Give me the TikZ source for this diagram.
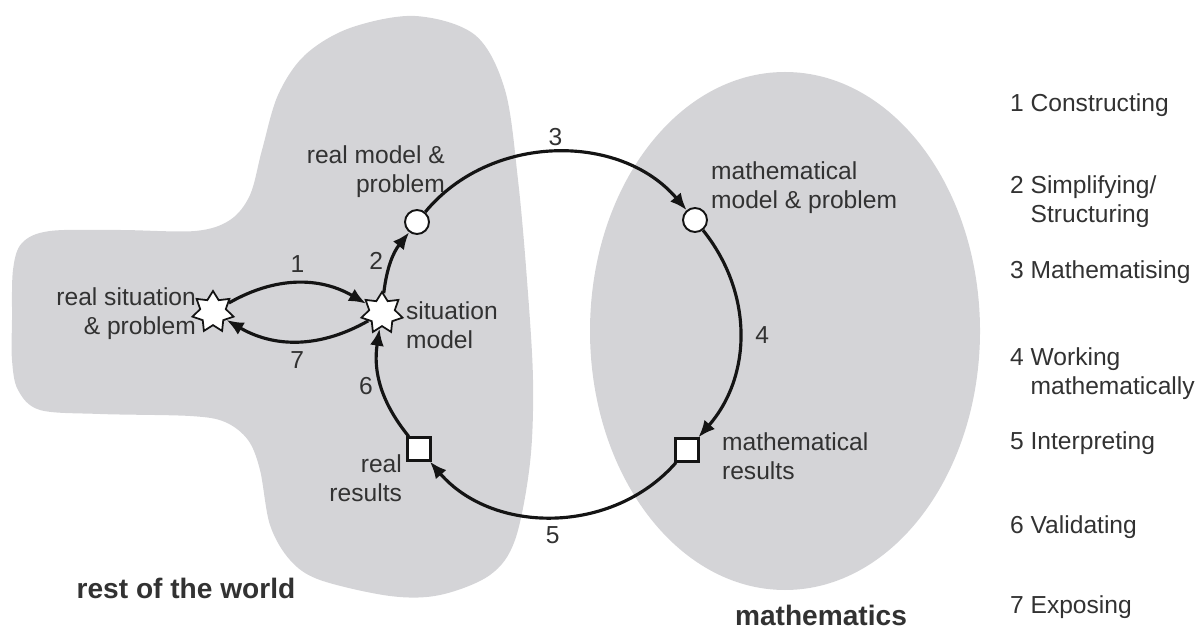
\documentclass[tikz,border=0pt]{standalone}
\usepackage{fontspec}
\setmainfont{Liberation Sans}
\usepackage{tikz}
\usetikzlibrary{arrows.meta,shapes.geometric}
\definecolor{areagray}{RGB}{212,212,215}
\definecolor{txtgray}{RGB}{50,50,50}
\definecolor{arrblack}{RGB}{20,20,20}
\tikzset{
  cycarr/.style={-{Latex[length=3.4mm,width=2.8mm]}, arrblack, line width=1.8pt},
  lbl/.style={font=\fontsize{14}{16.5}\selectfont, text=txtgray, inner sep=1pt},
  num/.style={font=\fontsize{14}{16.5}\selectfont, text=txtgray, inner sep=1pt},
  stp/.style={lbl, anchor=west, align=left},
  areacap/.style={font=\fontsize{16}{19}\selectfont\bfseries, text=txtgray},
  ringnd/.style={circle, draw=arrblack, fill=white, line width=1.1pt,
                 minimum size=0.48cm, inner sep=0pt},
  boxnd/.style={rectangle, draw=arrblack, fill=white, line width=1.3pt,
                minimum size=0.46cm, inner sep=0pt},
  starnd/.style={star, star points=7, star point ratio=1.6, draw=arrblack,
                 fill=white, line width=1pt, minimum size=0.84cm, inner sep=0pt},
}

\begin{document}
\begin{tikzpicture}[x=0.02cm, y=0.02cm]
  \useasboundingbox (0,0) rectangle (1199,632);
  \fill[areagray] plot[smooth cycle, tension=0.55] coordinates {
    (12,312) (13,362) (22,389) (50,401) (120,402) (195,401) (230,412) (250,437)
    (262,482) (278,537) (305,577) (350,604) (415,616) (475,597) (505,542)
    (518,452) (527,352) (533,252) (530,169) (515,92) (490,57) (440,37) (390,36)
    (320,52) (290,72) (270,107) (260,162) (248,192) (225,210) (190,216)
    (100,218) (40,222) (18,242) (12,272)};
  \fill[areagray] (785,301) ellipse (195 and 259);

  \node[starnd] (rs) at (213,320) {};
  \node[starnd] (sm) at (382,319) {};
  \node[ringnd] (rm) at (417,410) {};
  \node[ringnd] (mm) at (695,412) {};
  \node[boxnd] (mr) at (687,182) {};
  \node[boxnd] (rr) at (419,183) {};

  \node[lbl, anchor=east, align=right] (rsl) at (198,318) {real situation\\\& problem};
  \node[lbl, anchor=west, align=left] (sml) at (404,307) {situation\\model};
  \node[lbl, anchor=east, align=right] (rml) at (447,460) {real model \&\\problem};
  \node[lbl, anchor=west, align=left] (mml) at (709,444) {mathematical\\model \& problem};
  \node[lbl, anchor=west, align=left] (mrl) at (720,176) {mathematical\\results};
  \node[lbl, anchor=east, align=right] (rrl) at (404,154) {real\\results};

  \draw[cycarr] (rs) to[bend left=30] node[num, above=4pt] (n1) {1} (sm);
  \draw[cycarr] (sm) to[bend left=30] node[num, below=4pt] (n7) {7} (rs);
  \draw[cycarr] (sm) to[bend left=16] node[num, left=3pt] (n2) {2} (rm);
  \draw[cycarr] (rm) to[bend left=50] node[num, above=2pt] (n3) {3} (mm);
  \draw[cycarr] (mm) to[bend left=40] node[num, right=7pt] (n4) {4} (mr);
  \draw[cycarr] (mr) to[bend left=49] node[num, below=4pt] (n5) {5} (rr);
  \draw[cycarr] (rr) to[bend left=24] node[num, left=3pt] (n6) {6} (sm);

  \node[areacap] (world) at (186,44) {rest of the world};
  \node[areacap] (maths) at (821,17) {mathematics};

  \node[stp] (s1) at (1008,527) {1 Constructing};
  \node[stp] (s2) at (1008,430) {2 Simplifying/\\\hphantom{2 }Structuring};
  \node[stp] (s3) at (1008,360) {3 Mathematising};
  \node[stp] (s4) at (1008,258) {4 Working\\\hphantom{4 }mathematically};
  \node[stp] (s5) at (1008,189) {5 Interpreting};
  \node[stp] (s6) at (1008,105) {6 Validating};
  \node[stp] (s7) at (1008,25) {7 Exposing};
\end{tikzpicture}
\end{document}
